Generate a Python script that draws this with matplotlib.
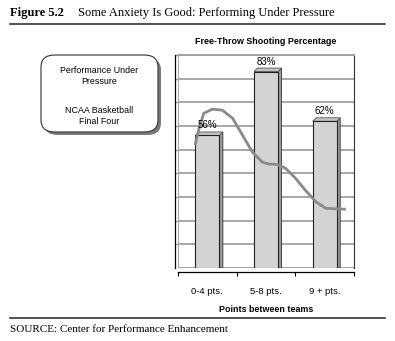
import matplotlib.pyplot as plt
from matplotlib.patches import FancyBboxPatch, Polygon

# free-throw percentage by final margin
categories = ['0-4 pts.', '5-8 pts.', '9 + pts.']
pct = [56, 83, 62]

# hand-drawn trend line across the bars (x in category units)
trend_x = [-0.21, -0.14, -0.06, 0.085, 0.255, 0.43, 0.60, 0.77, 0.94, 1.05,
           1.19, 1.33, 1.50, 1.67, 1.85, 2.02, 2.36]
trend_y = [51.9, 59.1, 65.4, 67.1, 66.7, 63.3, 56.1, 48.9, 44.7, 43.9,
           43.8, 42.2, 38.0, 32.9, 28.0, 25.2, 24.8]

plt.rcParams['font.family'] = ['Liberation Sans', 'DejaVu Sans']

W, H = 395, 341
fig = plt.figure(figsize=(W / 100, H / 100), dpi=100)


def fx(px):
    return px / W


def fy(py):
    return 1 - py / H


serif = 'Liberation Serif'
sans = 'Liberation Sans'

# header and footer
fig.text(fx(10), fy(13), 'Figure 5.2', family=serif, weight='bold', fontsize=9.0, va='center')
fig.text(fx(78), fy(13), 'Some Anxiety Is Good: Performing Under Pressure',
         family=serif, fontsize=8.9, va='center')
fig.add_artist(plt.Line2D([fx(10), fx(385)], [fy(24), fy(24)], color='#222222', lw=1.1))
fig.add_artist(plt.Line2D([fx(10), fx(385)], [fy(318), fy(318)], color='#222222', lw=1.1))
fig.text(fx(10), fy(329), 'SOURCE: Center for Performance Enhancement',
         family=serif, fontsize=8.0, va='center')

# rounded note box with drop shadow
bx, by, bw, bh = 41, 55, 117, 77
shadow = FancyBboxPatch((fx(bx + 3), fy(by + bh + 3)), fx(bw), bh / H,
                        boxstyle='round,pad=0,rounding_size=0.035',
                        transform=fig.transFigure, fc='#7a7a7a', ec='none')
box = FancyBboxPatch((fx(bx), fy(by + bh)), fx(bw), bh / H,
                     boxstyle='round,pad=0,rounding_size=0.035',
                     transform=fig.transFigure, fc='white', ec='#333333', lw=0.8)
fig.add_artist(shadow)
fig.add_artist(box)
fig.text(fx(99), fy(76), 'Performance Under\nPressure', family=sans, fontsize=6.4,
         ha='center', va='center', linespacing=1.3)
fig.text(fx(99), fy(116), 'NCAA Basketball\nFinal Four', family=sans, fontsize=6.4,
         ha='center', va='center', linespacing=1.3)

# chart area (back wall of the pseudo-3D plot)
left, right, top, floor = 178, 354, 55, 268
ax = fig.add_axes([fx(left), fy(floor), (right - left) / W, (floor - top) / H])
ax.set_xlim(-0.5, 2.5)
ax.set_ylim(0, 90)

ax.set_yticks(range(10, 91, 10))
ax.yaxis.grid(True, color='#a0a0a0', lw=1.3, zorder=0)
ax.set_axisbelow(True)
ax.tick_params(axis='y', direction='in', length=2.5, width=1.0, color='#a0a0a0',
               labelleft=False)
ax.set_xticks([-0.5, 0.5, 1.5, 2.5])
ax.set_xticklabels([])
ax.set_xticks(range(len(categories)), labels=categories, minor=True)
ax.tick_params(axis='x', which='major', direction='out', length=3, width=0.8)
ax.tick_params(axis='x', which='minor', length=0, pad=11, labelsize=6.8)

ax.spines['top'].set_color('#a0a0a0')
ax.spines['top'].set_linewidth(1.3)
ax.spines['right'].set_color('#333333')
ax.spines['right'].set_linewidth(0.8)
ax.spines['left'].set_position(('outward', 2))
ax.spines['left'].set_linewidth(0.9)
ax.spines['bottom'].set_position(('outward', 3))
ax.spines['bottom'].set_linewidth(0.9)
ax.axhline(0, color='#a0a0a0', lw=1.3, zorder=1)
ax.axvline(-0.5, color='#a0a0a0', lw=1.3, zorder=1)

ax.set_title('Free-Throw Shooting Percentage', family=sans, weight='bold',
             fontsize=6.4, pad=8)
ax.set_xlabel('Points between teams', family=sans, weight='bold', fontsize=6.4,
              labelpad=6)

# bars with a bit of depth: right side and top faces
bar_w = 0.41
depth_px = 3.5
fig.canvas.draw()
bb = ax.get_window_extent()
dx = depth_px * 3.0 / bb.width
dy = depth_px * 90.0 / bb.height
for i, v in enumerate(pct):
    xl, xr = i - bar_w / 2, i + bar_w / 2
    ax.add_patch(Polygon([(xr, 0), (xr, v), (xr + dx, v + dy), (xr + dx, 0)],
                         closed=True, fc='#9a9a9a', ec='#333333', lw=0.6, zorder=2))
    ax.add_patch(Polygon([(xl, v), (xr, v), (xr + dx, v + dy), (xl + dx, v + dy)],
                         closed=True, fc='#c4c4c4', ec='#555555', lw=0.6, zorder=2))
ax.bar(range(len(pct)), pct, width=bar_w, color='#d3d3d3', edgecolor='#222222',
       lw=0.8, zorder=3)

ax.plot(trend_x, trend_y, color='#8a8a8a', lw=2.0, solid_capstyle='butt', zorder=4)

for i, v in enumerate(pct):
    ax.annotate(f'{v}%', (i, v), xytext=(0, 5), textcoords='offset pixels',
                ha='center', va='bottom', family=sans, fontsize=7, zorder=5)

fig.savefig('out.png', dpi=100)
